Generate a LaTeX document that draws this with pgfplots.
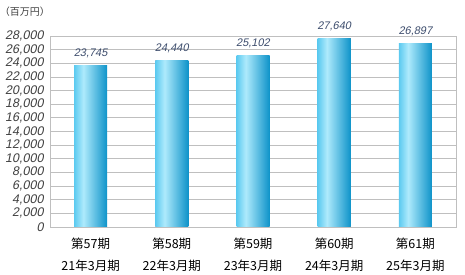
\documentclass[border=0pt]{standalone}
\usepackage{pgfplots}
\pgfplotsset{compat=1.18}
\usepackage{fontspec}
\setmainfont{Liberation Sans}
\newfontfamily\slnum{Liberation Sans}[FakeSlant=0.2]
\newfontfamily\cjk{Noto Sans CJK JP}
\definecolor{barL}{HTML}{5CCAF0}
\definecolor{barM}{HTML}{AEEAFC}
\definecolor{barR}{HTML}{0E93C9}
\definecolor{gridc}{HTML}{BFBFBF}
\definecolor{lblc}{HTML}{3C4C6C}
\definecolor{tickc}{HTML}{404040}
\pgfdeclarehorizontalshading{barshade}{100bp}{color(0bp)=(barL); color(25bp)=(barL); color(39bp)=(barM); color(75bp)=(barR); color(100bp)=(barR)}
\begin{document}
\begin{tikzpicture}
\useasboundingbox (-50pt,-48pt) rectangle (415pt,227pt);
\begin{axis}[
  at={(0pt,0pt)}, anchor=south west,
  scale only axis, width=406pt, height=191pt,
  xmin=-0.5, xmax=4.5, ymin=0, ymax=28000,
  ytick={0,2000,...,28000},
  xtick={0,1,2,3,4},
  xticklabels={{第57期\\21年3月期},{第58期\\22年3月期},{第59期\\23年3月期},{第60期\\24年3月期},{第61期\\25年3月期}},
  xticklabel style={font=\cjk\fontsize{12.5}{22}\selectfont, align=center, text=black, yshift=-7pt},
  yticklabel style={font=\slnum\fontsize{12.5}{12.5}\selectfont, text=tickc, xshift=-3pt},
  scaled y ticks=false,
  /pgf/number format/1000 sep={,},
  /pgf/number format/assume math mode=true,
  major tick length=0pt,
  ymajorgrids, grid style={gridc, line width=0.8pt},
  axis line style={gridc, line width=0.8pt},
  ybar, bar width=33pt, bar shift=0pt,
  every axis plot/.append style={draw=none, shading=barshade},
  nodes near coords,
  nodes near coords style={font=\slnum\fontsize{11}{11}\selectfont, text=lblc, anchor=center, yshift=12pt},
]
\addplot coordinates {(0,23745)};
\addplot coordinates {(1,24440)};
\addplot coordinates {(2,25102)};
\addplot coordinates {(3,27640)};
\addplot coordinates {(4,26897)};
\end{axis}
\node[font=\cjk\fontsize{10}{10}\selectfont, text=tickc] at (-25pt,215pt) {（百万円）};
\end{tikzpicture}
\end{document}
